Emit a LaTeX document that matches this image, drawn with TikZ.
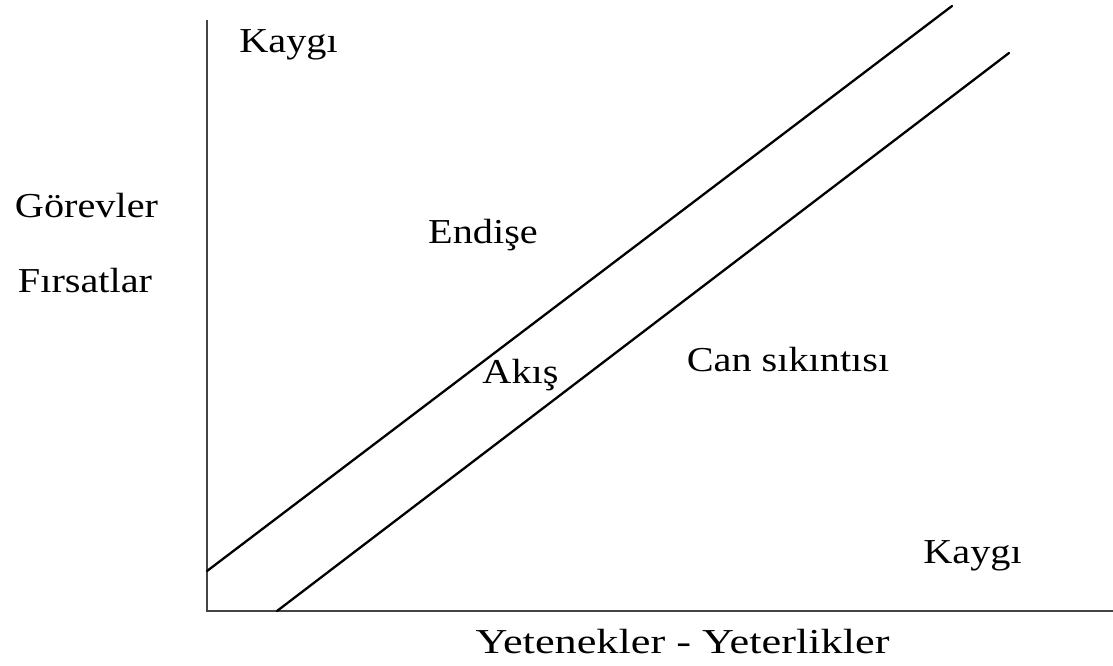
\documentclass[tikz,border=0pt]{standalone}
\usepackage{fontspec}
\setmainfont{Liberation Serif}[FakeStretch=1.15]
\usepackage{xcolor}
\usetikzlibrary{positioning}
\definecolor{flowAxis}{HTML}{444444}
\definecolor{flowInk}{HTML}{000000}

\begin{document}
\begin{tikzpicture}[x=1pt,y=-1pt, every node/.style={font=\fontsize{35}{40}\selectfont, text=flowInk, inner sep=0pt, anchor=base}]
    \useasboundingbox (0,0) rectangle (1113,666);
    % axes
    \coordinate (top) at (207,20);
    \coordinate (origin) at (207,611);
    \coordinate (right) at (1113,611);
    \draw[line width=2.4pt, flowAxis] (top) -- (origin) -- (right);
    % flow channel
    \coordinate (upA) at (207,571);
    \coordinate (upB) at (952,6);
    \coordinate (lowA) at (277,611);
    \coordinate (lowB) at (1009,53);
    \draw[line width=2.3pt, black, line cap=round] (upA) -- (upB);
    \draw[line width=2.3pt, black, line cap=round] (lowA) -- (lowB);
    % labels
    \node (kayTop) at (288.5,53) {Kaygı};
    \node (gorev) at (86.5,217) {Görevler};
    \node (firsat) at (85,292) {Fırsatlar};
    \node (endise) at (483,243) {Endişe};
    \node (akis) at (520.5,383) {Akış};
    \node (sikinti) at (788,371) {Can sıkıntısı};
    \node (kayBot) at (972.5,563) {Kaygı};
    \node[xscale=1.1, transform shape] (yetenek) at (682.5,653) {Yetenekler - Yeterlikler};
  \end{tikzpicture}
\end{document}
